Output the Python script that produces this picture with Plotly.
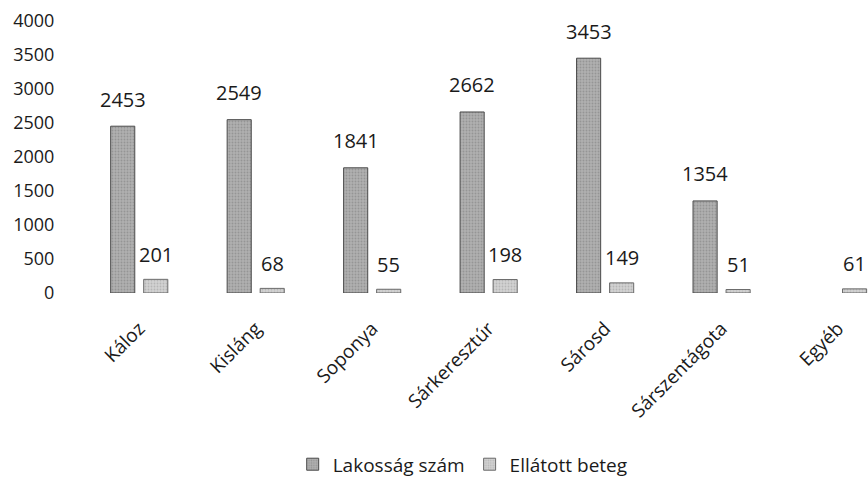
import plotly.graph_objects as go

categories = ["Káloz", "Kisláng", "Soponya", "Sárkeresztúr", "Sárosd", "Sárszentágota", "Egyéb"]
lakossag = [2453, 2549, 1841, 2662, 3453, 1354, None]
ellatott = [201, 68, 55, 198, 149, 51, 61]
series_names = ["Lakosság szám", "Ellátott beteg"]
y_ticks = [0, 500, 1000, 1500, 2000, 2500, 3000, 3500, 4000]

FONT = "Open Sans"
TXT = "#1a1a1a"

fig = go.Figure()
fig.add_trace(go.Bar(
    x=categories, y=lakossag, name=series_names[0],
    marker=dict(color="#a2a2a2", line=dict(color="#4a4a4a", width=1),
                pattern=dict(shape=".", fgcolor="#7a7a7a", bgcolor="#b0b0b0", size=3, solidity=0.3)),
))
fig.add_trace(go.Bar(
    x=categories, y=ellatott, name=series_names[1],
    marker=dict(color="#c6c6c6", line=dict(color="#6a6a6a", width=1),
                pattern=dict(shape=".", fgcolor="#9a9a9a", bgcolor="#d2d2d2", size=3, solidity=0.3)),
))

slot = 116.5 * (1 - 0.433) / 2
annotations = []
for cat, v in zip(categories, lakossag):
    if v is not None:
        annotations.append(dict(x=cat, y=v, text=str(v), showarrow=False, xshift=-slot / 2,
                                yshift=27, yanchor="middle", font=dict(family=FONT, size=20, color=TXT)))
for cat, v in zip(categories, ellatott):
    annotations.append(dict(x=cat, y=v, text=str(v), showarrow=False, xshift=slot / 2,
                            yshift=25, yanchor="middle", font=dict(family=FONT, size=20, color=TXT)))

fig.update_layout(
    width=868, height=478,
    margin=dict(l=81, r=0, t=21, b=185, autoexpand=False),
    paper_bgcolor="white", plot_bgcolor="white",
    barmode="group", bargap=0.433, bargroupgap=0.27,
    font=dict(family=FONT, size=18, color=TXT),
    showlegend=True,
    legend=dict(orientation="h", x=0.485, xanchor="center", y=-0.63, yanchor="middle",
                xref="paper", font=dict(family=FONT, size=19, color=TXT),
                itemwidth=30, tracegroupgap=0),
    annotations=annotations,
)
fig.update_xaxes(range=[-0.5, 6.257], tickangle=-45, showline=False, showgrid=False,
                 automargin=False,
                 ticks="outside", ticklen=16, tickcolor="rgba(0,0,0,0)",
                 tickfont=dict(family=FONT, size=19, color=TXT))
fig.update_yaxes(range=[0, 4000], tickvals=y_ticks, showgrid=False, showline=False,
                 automargin=False,
                 zeroline=False, ticks="outside", ticklen=22, tickcolor="rgba(0,0,0,0)",
                 tickfont=dict(family=FONT, size=18, color=TXT))

fig.write_html("out.html", config={"displayModeBar": False},
               post_script="document.body.style.margin='0';document.body.style.overflow='hidden';")
